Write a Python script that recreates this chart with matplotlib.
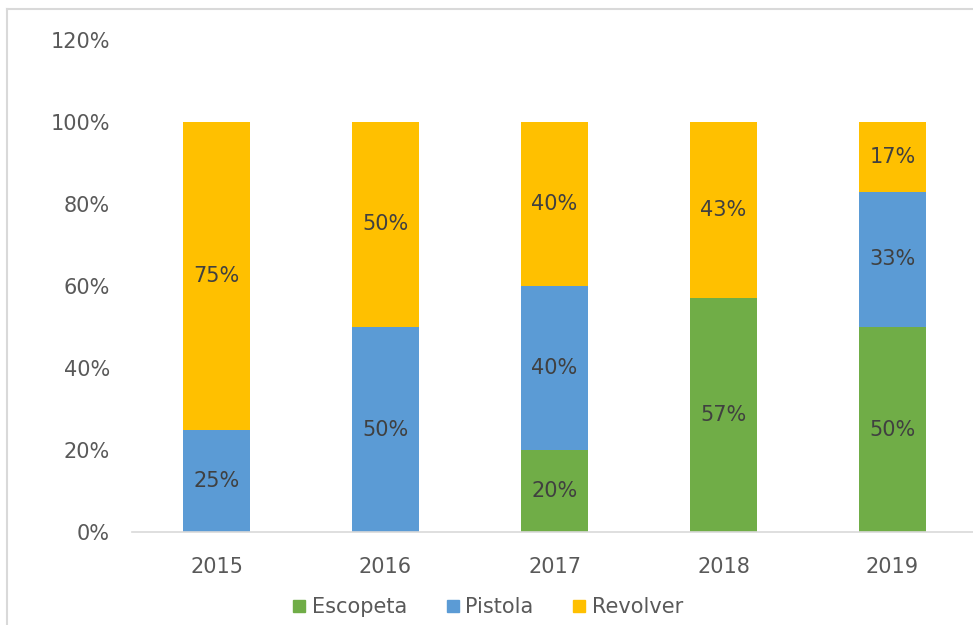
import matplotlib
matplotlib.use("Agg")
import matplotlib.pyplot as plt
from matplotlib.lines import Line2D
from matplotlib.ticker import FuncFormatter
import numpy as np

years = ["2015", "2016", "2017", "2018", "2019"]
escopeta = [0, 0, 20, 57, 50]
pistola = [25, 50, 40, 0, 33]
revolver = [75, 50, 40, 43, 17]
series_names = ["Escopeta", "Pistola", "Revolver"]
colors = ["#70AD47", "#5B9BD5", "#FFC000"]

plt.rcParams['font.family'] = ['DejaVu Sans']

fig = plt.figure(figsize=(9.73, 6.25), dpi=100)
ax = fig.add_axes([132/973, 93/625, 845/973, 492/625])

x = np.arange(len(years))
width = 0.4
bottom = np.zeros(len(years))
handles = []
for name, vals, c in zip(series_names, [escopeta, pistola, revolver], colors):
    vals = np.array(vals, dtype=float)
    ax.bar(x, vals, width, bottom=bottom, color=c, label=name, zorder=2)
    for xi, v, b in zip(x, vals, bottom):
        if v > 0:
            ax.text(xi, b + v / 2, f"{v:.0f}%", ha="center", va="center",
                    fontsize=15, color="#404040", zorder=3)
    bottom += vals
    handles.append(Line2D([], [], marker="s", linestyle="none", markersize=9,
                          markerfacecolor=c, markeredgecolor=c, label=name))

ax.set_xlim(-0.5, len(years) - 0.5)
ax.set_ylim(0, 120)
ax.set_yticks(np.arange(0, 121, 20))
ax.yaxis.set_major_formatter(FuncFormatter(lambda v, p: f"{v:.0f}%"))
ax.set_xticks(x)
ax.set_xticklabels(years)
ax.tick_params(axis="both", length=0, labelsize=15, labelcolor="#595959")
ax.tick_params(axis="y", pad=16)
ax.tick_params(axis="x", pad=18)
for s in ["top", "right", "left"]:
    ax.spines[s].set_visible(False)
ax.spines["bottom"].set_color("#D9D9D9")
ax.spines["bottom"].set_linewidth(1.2)

fig.legend(handles=handles, loc="center", bbox_to_anchor=(487/973, 1 - 607/625),
           ncol=3, frameon=False, fontsize=15, labelcolor="#595959",
           handletextpad=0.2, columnspacing=1.8, handlelength=0.8)

# figure border (partially cropped)
fig.add_artist(Line2D([7/973, 7/973], [0, 1 - 9/625], transform=fig.transFigure,
                      color="#D9D9D9", linewidth=1.5))
fig.add_artist(Line2D([7/973, 1], [1 - 9/625, 1 - 9/625], transform=fig.transFigure,
                      color="#D9D9D9", linewidth=1.5))

fig.savefig("out.png", dpi=100, facecolor="white")
